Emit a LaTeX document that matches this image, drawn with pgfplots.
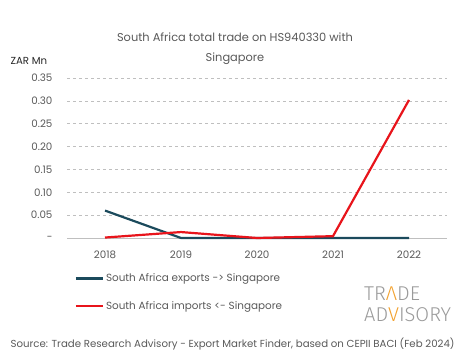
\documentclass[border=0pt]{standalone}
\usepackage{pgfplots}
\pgfplotsset{compat=1.18}
\usepackage{fontspec}
\setmainfont{Poppins}
\newfontfamily\logofont{Fira Sans Light}
\definecolor{txt}{HTML}{595959}
\definecolor{expc}{HTML}{1B4A5C}
\definecolor{impc}{HTML}{E8141B}
\definecolor{gridc}{HTML}{BFBFBF}
\definecolor{logoc}{HTML}{9A9A9A}
\definecolor{logoo}{HTML}{F2A12E}
\begin{document}
\begin{tikzpicture}[x=1pt,y=1pt]
\useasboundingbox (0,0) rectangle (465,359);
\begin{axis}[
  at={(67pt,121pt)}, anchor=south west,
  scale only axis, width=380pt, height=160pt,
  xmin=-0.5, xmax=4.5, ymin=0, ymax=0.35,
  xtick={0,1,2,3,4}, xticklabels={2018,2019,2020,2021,2022},
  ytick={0,0.05,0.10,0.15,0.20,0.25,0.30,0.35},
  yticklabels={-,0.05,0.10,0.15,0.20,0.25,0.30,0.35},
  axis line style={draw=none},
  tick style={draw=none},
  ymajorgrids, grid style={gridc, dashed, line width=0.6pt},
  ticklabel style={font=\fontsize{10.3}{12}\selectfont, text=txt},
  xticklabel style={yshift=-9pt},
  yticklabel style={xshift=-11pt},
  clip=false,
  legend style={at={(0.02,-0.21)}, anchor=north west, draw=none, fill=none,
    font=\fontsize{10.4}{12}\selectfont, text=txt, row sep=14pt,
    legend cell align=left, inner sep=0pt},
  legend image code/.code={\draw[#1] (0pt,0pt) -- (27pt,0pt);},
  extra y ticks={0}, extra y tick labels={},
  extra y tick style={grid style={gridc, solid, line width=0.6pt}},
]
\addplot[expc, line width=2.2pt] coordinates {(0,0.060) (1,0.000) (2,0.000) (3,0.000) (4,0.000)};
\addlegendentry{South Africa exports -> Singapore}
\addplot[impc, line width=2.2pt] coordinates {(0,0.001) (1,0.013) (2,0.000) (3,0.004) (4,0.302)};
\addlegendentry{South Africa imports <- Singapore}
\end{axis}
\node[text=txt, font=\fontsize{11.4}{13}\selectfont, align=center] at (235,322) {South Africa total trade on HS940330 with};
\node[text=txt, font=\fontsize{11.4}{13}\selectfont, align=center] at (235,300) {Singapore};
\node[text=black!85, font=\fontsize{10.2}{11}\selectfont, anchor=west] at (7,298) {ZAR Mn};
\node[text=txt, font=\fontsize{10.2}{12}\selectfont, anchor=west] at (7,15) {Source: Trade Research Advisory - Export Market Finder, based on CEPII BACI (Feb 2024)};
\node[text=logoc, font=\logofont\fontsize{20}{20}\selectfont, anchor=west, inner sep=0pt] at (364,65) {TR\textcolor{logoo}{Λ}DE};
\node[text=logoc, font=\logofont\fontsize{20}{20}\selectfont, anchor=west, inner sep=0pt] at (364,44) {AD\textcolor{logoo}{V}ISORY};
\end{tikzpicture}
\end{document}
